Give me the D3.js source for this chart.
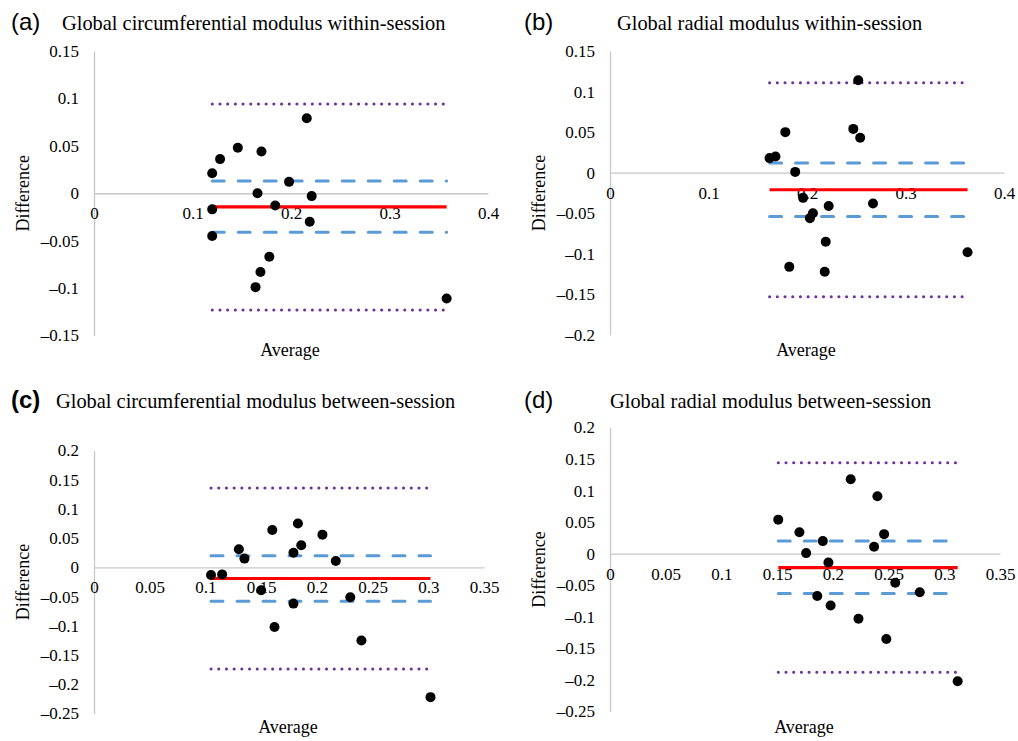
<!DOCTYPE html>
<html lang="en">
  <head>
    <meta charset="UTF-8" />
    <title>Bland-Altman plots</title>
    <script src="https://cdn.jsdelivr.net/npm/d3@7/dist/d3.min.js"></script>
    <style>
      body { margin: 0; background: #fff; }
      svg text { font-family: "Liberation Serif", "Times New Roman", serif; fill: #000; }
      svg text.letter { font-family: "Liberation Sans", Arial, sans-serif; }
    </style>
  </head>
  <body>
    <script>
      // (a) circumferential within-session
      const aAvg = [0.120, 0.128, 0.146, 0.170, 0.120, 0.120, 0.166, 0.184, 0.198, 0.216, 0.221, 0.219, 0.178, 0.169, 0.164, 0.358];
      const aDiff = [0.021, 0.036, 0.048, 0.044, -0.017, -0.045, 0.000, -0.013, 0.012, 0.079, -0.003, -0.030, -0.067, -0.083, -0.099, -0.111];
      const aRef = [0.094, 0.013, -0.0144, -0.041, -0.123]; // upper LoA, upper CI, mean, lower CI, lower LoA

      // (b) radial within-session
      const bAvg = [0.162, 0.168, 0.178, 0.188, 0.196, 0.203, 0.206, 0.222, 0.247, 0.252, 0.254, 0.267, 0.219, 0.218, 0.182, 0.363];
      const bDiff = [0.018, 0.020, 0.050, 0.001, -0.031, -0.056, -0.050, -0.041, 0.054, 0.114, 0.043, -0.038, -0.085, -0.122, -0.116, -0.098];
      const bRef = [0.111, 0.012, -0.021, -0.054, -0.153];

      // (c) circumferential between-session
      const cAvg = [0.105, 0.115, 0.130, 0.135, 0.150, 0.160, 0.162, 0.179, 0.179, 0.183, 0.186, 0.205, 0.217, 0.230, 0.240, 0.302];
      const cDiff = [-0.013, -0.012, 0.031, 0.015, -0.039, 0.064, -0.102, 0.025, -0.062, 0.075, 0.038, 0.056, 0.011, -0.051, -0.125, -0.222];
      const cRef = [0.136, 0.020, -0.019, -0.058, -0.174];

      // (d) radial between-session
      const dAvg = [0.151, 0.170, 0.176, 0.186, 0.191, 0.196, 0.198, 0.216, 0.223, 0.237, 0.240, 0.246, 0.248, 0.256, 0.278, 0.312];
      const dDiff = [0.054, 0.034, 0.001, -0.067, 0.020, -0.014, -0.082, 0.118, -0.103, 0.011, 0.091, 0.031, -0.135, -0.046, -0.061, -0.202];
      const dRef = [0.144, 0.020, -0.022, -0.063, -0.188];

      const yTicksA = [0.15, 0.1, 0.05, 0, -0.05, -0.1, -0.15];
      const yTicksB = [0.15, 0.1, 0.05, 0, -0.05, -0.1, -0.15, -0.2];
      const yTicksCD = [0.2, 0.15, 0.1, 0.05, 0, -0.05, -0.1, -0.15, -0.2, -0.25];
      const xTicksAB = [0, 0.1, 0.2, 0.3, 0.4];
      const xTicksCD = [0, 0.05, 0.1, 0.15, 0.2, 0.25, 0.3, 0.35];

      const letters = ["(a)", "(b)", "(c)", "(d)"];
      const titles = [
        "Global circumferential modulus within-session",
        "Global radial modulus within-session",
        "Global circumferential modulus between-session",
        "Global radial modulus between-session",
      ];

      const width = 1018;
      const height = 741;
      const svg = d3.select("body").append("svg").attr("width", width).attr("height", height);

      const panels = [
        { avg: aAvg, diff: aDiff, ref: aRef, yT: yTicksA, xT: xTicksAB, ax: 94, xr: 488, top: 51, bot: 335.5,
          lx: 11, tx: 62, ty: 30, avgY: 356 },
        { avg: bAvg, diff: bDiff, ref: bRef, yT: yTicksB, xT: xTicksAB, ax: 610, xr: 1004, top: 51, bot: 335,
          lx: 524, tx: 617, ty: 30, avgY: 356 },
        { avg: cAvg, diff: cDiff, ref: cRef, yT: yTicksCD, xT: xTicksCD, ax: 94, xr: 484, top: 450.5, bot: 713.5,
          lx: 11, tx: 56, ty: 408, avgY: 733 },
        { avg: dAvg, diff: dDiff, ref: dRef, yT: yTicksCD, xT: xTicksCD, ax: 610, xr: 1000, top: 427.5, bot: 711.5,
          lx: 524, tx: 610, ty: 408, avgY: 733 },
      ];

      const fmt = (d) => (d < 0 ? "\u2013" + Math.abs(d) : String(d));
      // line styles: LoA dotted purple, CI dashed blue, mean solid red
      const refStyle = [
        { c: "#7030a0", w: 3, dash: "0.1 7.6" },
        { c: "#5b9bd5", w: 3, dash: "12 14" },
        { c: "#ff0000", w: 3.2, dash: null },
        { c: "#5b9bd5", w: 3, dash: "12 14" },
        { c: "#7030a0", w: 3, dash: "0.1 7.6" },
      ];

      panels.forEach((p, i) => {
        const g = svg.append("g");
        const x = d3.scaleLinear().domain([0, d3.max(p.xT)]).range([p.ax, p.xr]);
        const y = d3.scaleLinear().domain([d3.min(p.yT), d3.max(p.yT)]).range([p.bot, p.top]);

        // y axis
        const yAxis = g.append("g")
          .attr("transform", `translate(${p.ax},0)`)
          .call(d3.axisLeft(y).tickValues(p.yT).tickSize(0).tickPadding(15).tickFormat(fmt));
        yAxis.attr("font-family", null).attr("font-size", null);
        yAxis.select(".domain").attr("stroke", "#c8c8c8").attr("stroke-width", 1.3);
        yAxis.selectAll("text").style("font-size", "17px");

        // x axis on the zero line
        const xAxis = g.append("g")
          .attr("transform", `translate(0,${y(0)})`)
          .call(d3.axisBottom(x).tickValues(p.xT).tickSize(0).tickPadding(14).tickFormat(fmt));
        xAxis.attr("font-family", null).attr("font-size", null);
        xAxis.select(".domain").attr("stroke", "#c8c8c8").attr("stroke-width", 1.3);
        xAxis.selectAll("text").style("font-size", "17px");

        // reference lines spanning the range of averages
        const [x0, x1] = d3.extent(p.avg);
        p.ref.forEach((v, k) => {
          const s = refStyle[k];
          g.append("line")
            .attr("x1", x(x0)).attr("x2", x(x1))
            .attr("y1", y(v)).attr("y2", y(v))
            .attr("stroke", s.c)
            .attr("stroke-width", s.w)
            .attr("stroke-linecap", s.dash ? "round" : "butt")
            .attr("stroke-dasharray", s.dash);
        });

        g.selectAll("circle")
          .data(p.avg)
          .enter()
          .append("circle")
          .attr("cx", (d) => x(d))
          .attr("cy", (d, j) => y(p.diff[j]))
          .attr("r", 5)
          .attr("fill", "#000");

        // labels
        g.append("text")
          .attr("class", "letter")
          .attr("x", p.lx).attr("y", p.ty)
          .style("font-size", "24px")
          .style("font-weight", i === 2 ? "bold" : "normal")
          .text(letters[i]);
        g.append("text")
          .attr("x", p.tx).attr("y", p.ty)
          .style("font-size", "20.4px")
          .text(titles[i]);
        g.append("text")
          .attr("transform", `translate(${p.ax - 65},${(p.top + p.bot) / 2}) rotate(-90)`)
          .attr("text-anchor", "middle")
          .style("font-size", "18px")
          .text("Difference");
        g.append("text")
          .attr("x", (p.ax + p.xr) / 2 - 1)
          .attr("y", p.avgY)
          .attr("text-anchor", "middle")
          .style("font-size", "18px")
          .text("Average");
      });
    </script>
  </body>
</html>
